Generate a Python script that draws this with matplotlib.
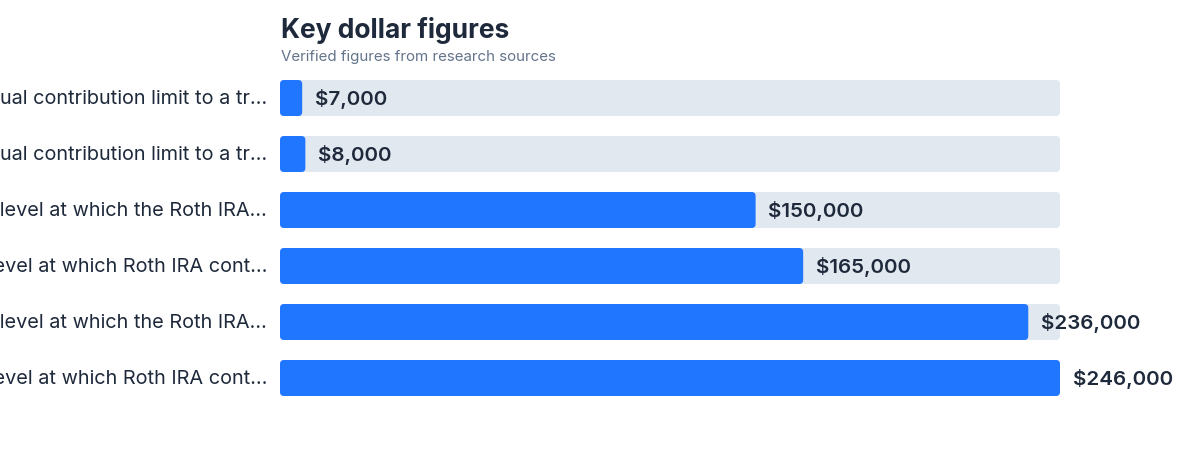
import matplotlib
matplotlib.use("Agg")
import matplotlib.pyplot as plt
from matplotlib.patches import FancyBboxPatch

plt.rcParams['font.family'] = ['Inter', 'DejaVu Sans']

# data
labels = [
    "Annual contribution limit to a tr\u2026",
    "Annual contribution limit to a tr\u2026",
    "Income level at which the Roth IRA\u2026",
    "Income level at which Roth IRA cont\u2026",
    "Income level at which the Roth IRA\u2026",
    "Income level at which Roth IRA cont\u2026",
]
values = [7000, 8000, 150000, 165000, 236000, 246000]
value_labels = ["$7,000", "$8,000", "$150,000", "$165,000", "$236,000", "$246,000"]

title = "Key dollar figures"
subtitle = "Verified figures from research sources"

BLUE = "#2176FF"
TRACK = "#E2E8F0"
DARK = "#1E293B"
GREY = "#64748B"

W, H = 1200, 456
fig = plt.figure(figsize=(W / 100, H / 100), dpi=100)
# axes: 280..1060 px wide, rows of 56 px starting at y=70
ax = fig.add_axes([280 / W, 1 - 407 / H, 780 / W, 336 / H])
xmax = max(values)
n = len(values)
ax.set_xlim(0, xmax)
ax.set_ylim(n - 0.5, -0.5)
ax.axis("off")

bar_h = 36 / 56
px_x = xmax / 780.0
px_y = 1 / 56.0
radius = 4 * px_x
aspect = px_y / px_x

for i, (v, vl, lab) in enumerate(zip(values, value_labels, labels)):
    y0 = i - bar_h / 2
    track = FancyBboxPatch((0, y0), xmax, bar_h,
                           boxstyle=f"round,pad=0,rounding_size={radius}",
                           mutation_aspect=aspect, fc=TRACK, ec="none")
    ax.add_patch(track)
    bar = FancyBboxPatch((0, y0), v, bar_h,
                         boxstyle=f"round,pad=0,rounding_size={radius}",
                         mutation_aspect=aspect, fc=BLUE, ec="none")
    ax.add_patch(bar)
    ax.annotate(vl, (v, i), xytext=(9.0, 0), textcoords="offset points",
                ha="left", va="center", fontsize=14.8, color=DARK,
                fontweight="semibold", annotation_clip=False)
    ax.annotate(lab, (0, i), xytext=(-9.4, 0), textcoords="offset points",
                ha="right", va="center", fontsize=14.3, color=DARK,
                annotation_clip=False)

fig.text(281 / W, 1 - 31 / H, title, ha="left", va="center",
         fontsize=19, fontweight="bold", color=DARK)
fig.text(281 / W, 1 - 57 / H, subtitle, ha="left", va="center",
         fontsize=10.9, color=GREY)

fig.savefig("out.png", dpi=100, facecolor="white")
